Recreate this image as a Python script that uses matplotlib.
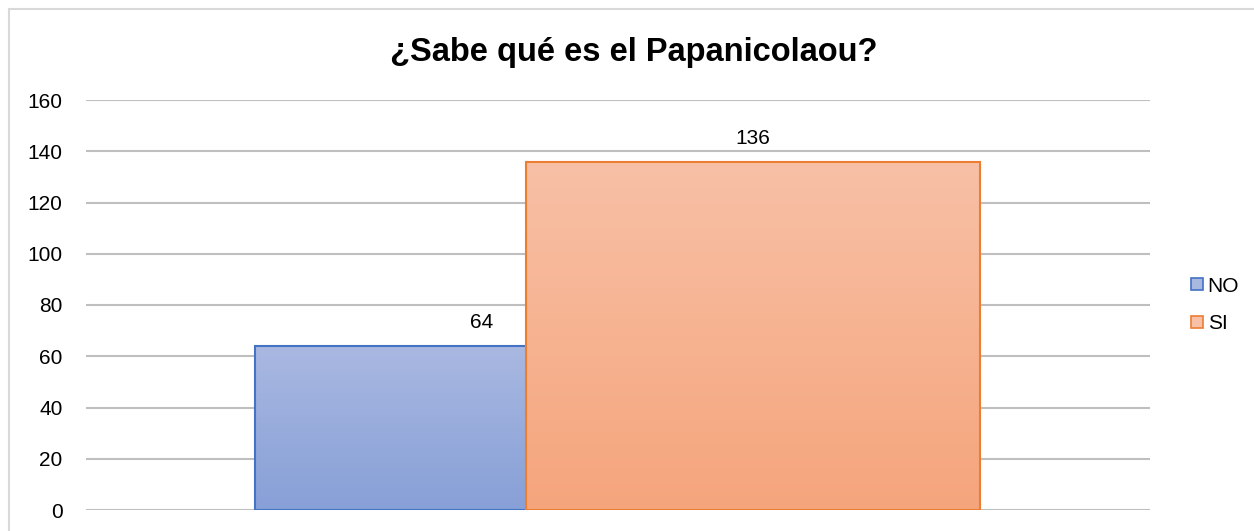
import matplotlib.pyplot as plt
import numpy as np
from matplotlib.patches import Rectangle
from matplotlib.lines import Line2D

categorias = ['NO', 'SI']
valores = [64, 136]
posiciones = [0.372, 0.627]
colores_borde = ['#4472C4', '#ED7D31']
colores_arriba = ['#A9B8E1', '#F8C0A6']
colores_abajo = ['#87A0D7', '#F5A57C']
yticks = [0, 20, 40, 60, 80, 100, 120, 140, 160]

plt.rcParams['font.family'] = ['Liberation Sans', 'DejaVu Sans']

fig = plt.figure(figsize=(12.54, 5.31), dpi=100)
ax = fig.add_axes([86 / 1254, (531 - 510) / 531, 1064 / 1254, 410 / 531])

# borde exterior del grafico
fig.patches.append(Rectangle((9 / 1254, -0.01), 1.1, 1 - 9 / 531 + 0.01,
                             transform=fig.transFigure, fill=False,
                             edgecolor='#D9D9D9', linewidth=1.5))

ancho = 0.426
for i, (x, v, cb, c1, c2) in enumerate(zip(posiciones, valores, colores_borde,
                                           colores_arriba, colores_abajo)):
    izq = x - ancho / 2
    z = 3 + 2 * i
    # degradado vertical
    a = np.array([int(c1[k:k + 2], 16) for k in (1, 3, 5)]) / 255
    b = np.array([int(c2[k:k + 2], 16) for k in (1, 3, 5)]) / 255
    t = np.linspace(0, 1, 100)[:, None]
    grad = (a * (1 - t) + b * t)[:, None, :]
    img = ax.imshow(grad, extent=[izq, izq + ancho, 0, v], aspect='auto',
                    origin='upper', zorder=z)
    barra = Rectangle((izq, 0), ancho, v, facecolor='none', edgecolor=cb,
                      linewidth=1.5, zorder=z + 0.5)
    ax.add_patch(barra)
    img.set_clip_path(barra)
    ax.annotate(str(v), (x, v), xytext=(0, 10), textcoords='offset points',
                ha='center', va='bottom', fontsize=15, zorder=10)

ax.set_xlim(0, 1)
ax.set_ylim(0, 160)
ax.set_yticks(yticks)
ax.set_xticks([])
ax.tick_params(axis='y', length=0, pad=17, labelsize=15)
ax.grid(axis='y', color='#BFBFBF', linewidth=1.5, zorder=0)
for s in ax.spines.values():
    s.set_visible(False)

handles = [Line2D([], [], marker='s', linestyle='none', markersize=8,
                  markerfacecolor=c, markeredgecolor=cb, markeredgewidth=1.2)
           for c, cb in zip(colores_arriba, colores_borde)]
fig.legend(handles, categorias, loc='center left', bbox_to_anchor=(1168 / 1254, 1 - 305 / 531),
           frameon=False, fontsize=15, handletextpad=0.0, labelspacing=0.9,
           handlelength=1.0)

fig.text(634 / 1254, 1 - 53 / 531, '¿Sabe qué es el Papanicolaou?', ha='center', va='center',
         fontsize=23.5, fontweight='bold')

fig.savefig('out.png', dpi=100)
